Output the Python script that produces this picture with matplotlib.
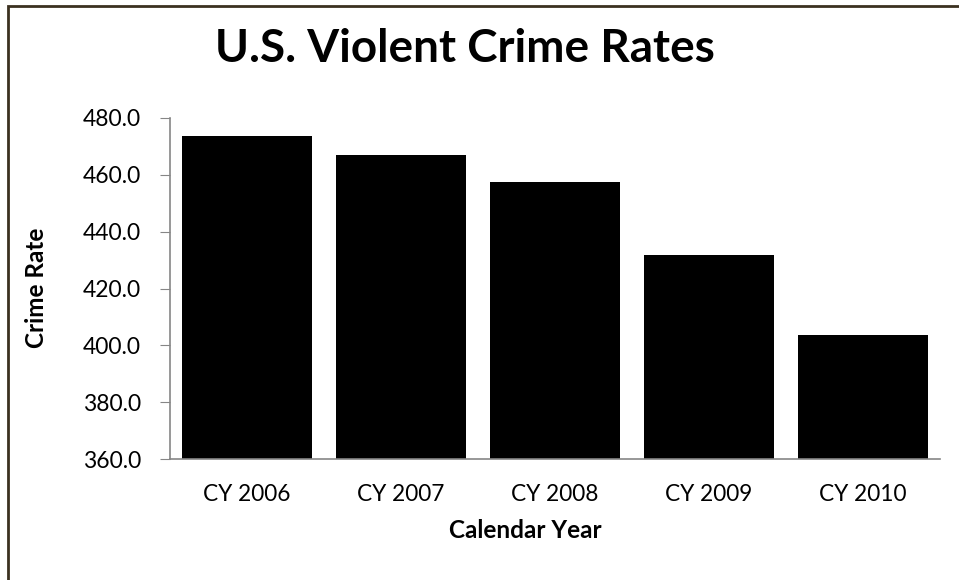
import matplotlib
matplotlib.use("Agg")
import matplotlib.pyplot as plt
from matplotlib.patches import Rectangle

categories = ["CY 2006", "CY 2007", "CY 2008", "CY 2009", "CY 2010"]
values = [473.6, 466.9, 457.5, 431.9, 403.6]
yticks = [360, 380, 400, 420, 440, 460, 480]

plt.rcParams['font.family'] = ['Lato', 'DejaVu Sans']

fig = plt.figure(figsize=(9.59, 5.80), dpi=100)
fig.patches.append(Rectangle((8/959, -0.1), 1.2, 1.1 - 6/580, transform=fig.transFigure,
                             fill=False, edgecolor='#3b3120', linewidth=2.0))
ax = fig.add_axes([170/959, 1 - 459/580, 770/959, 341/580])
x = list(range(len(categories)))
ax.bar(x, values, width=0.84, color='black')
ax.set_xlim(-0.5, len(categories) - 0.5)
ax.set_ylim(360, 480)
ax.set_yticks(yticks)
ax.set_yticklabels([f"{v:.1f}" for v in yticks], fontsize=16.5)
ax.set_xticks(x)
ax.set_xticklabels(categories, fontsize=16.3)
for s in ['top', 'right']:
    ax.spines[s].set_visible(False)
for s in ['left', 'bottom']:
    ax.spines[s].set_color('#868686')
    ax.spines[s].set_linewidth(1.2)
ax.tick_params(axis='y', length=7, color='#868686', pad=14)
ax.tick_params(axis='x', length=0, pad=18)
ax.set_ylabel("Crime Rate", fontsize=17.5, fontweight='bold')
ax.set_xlabel("Calendar Year", fontsize=17.5, fontweight='bold')
ax.yaxis.set_label_coords((36 - 170) / 770, (459 - 288) / 341)
ax.xaxis.set_label_coords((525 - 170) / 770, (459 - 530) / 341)
ax.yaxis.label.set_va('center')
ax.xaxis.label.set_va('center')
fig.text(465/959, 1 - 49/580, "U.S. Violent Crime Rates", fontsize=33, fontweight='bold',
         ha='center', va='center')
fig.savefig("out.png", dpi=100)
